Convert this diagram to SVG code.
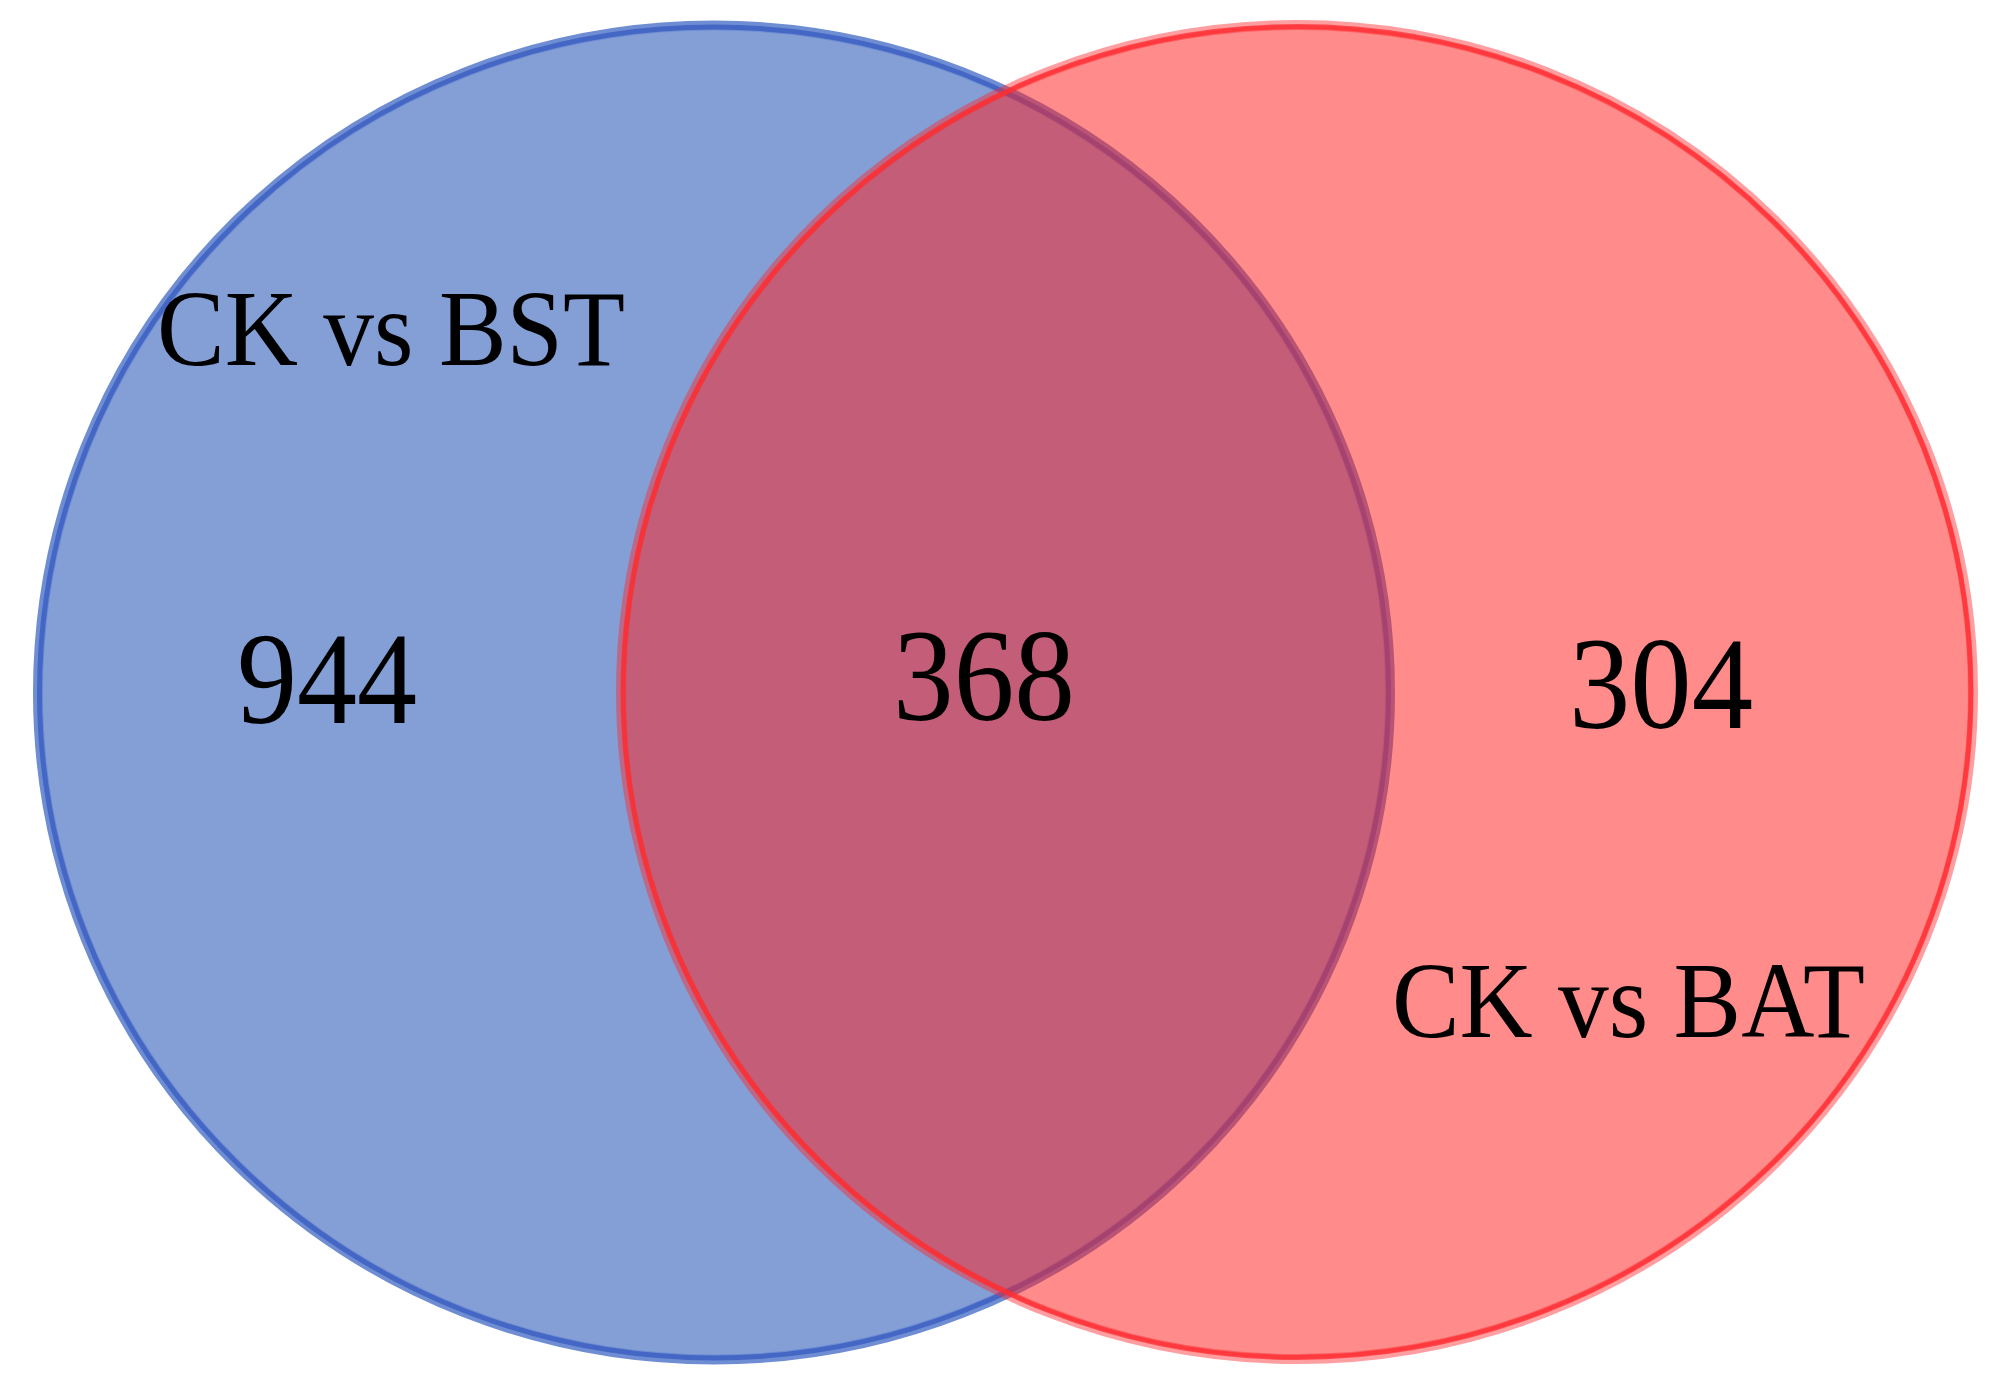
<svg xmlns="http://www.w3.org/2000/svg" width="2007" height="1391" viewBox="0 0 2007 1391">
<style>
.lbl{font-family:"Liberation Serif","Times New Roman",serif;font-size:109px;fill:#000}
.num{font-family:"Liberation Serif","Times New Roman",serif;font-size:132px;fill:#000}
</style>
<rect width="2007" height="1391" fill="#fff"/>
<g id="set-bst">
<ellipse cx="714" cy="692.5" rx="676" ry="667" fill="#849fd6" stroke="#6f8dd2" stroke-width="10"/>
<ellipse cx="714" cy="692.5" rx="674.5" ry="665.5" fill="none" stroke="#4467c6" stroke-width="5"/>
</g>
<g id="set-bat">
<ellipse cx="1297" cy="692" rx="676" ry="667" fill="rgb(255,33,33)" fill-opacity="0.52" stroke="rgb(255,40,45)" stroke-opacity="0.45" stroke-width="10"/>
<ellipse cx="1297" cy="692" rx="674" ry="665.5" fill="none" stroke="rgb(255,45,50)" stroke-opacity="0.75" stroke-width="5"/>
</g>
<g id="labels">
<text class="lbl" x="157" y="365" textLength="468" lengthAdjust="spacingAndGlyphs">CK vs BST</text>
<text class="lbl" x="1392" y="1037" textLength="473" lengthAdjust="spacingAndGlyphs">CK vs BAT</text>
<text class="num" x="237" y="723" textLength="180" lengthAdjust="spacingAndGlyphs">944</text>
<text class="num" x="893" y="720" textLength="182" lengthAdjust="spacingAndGlyphs">368</text>
<text class="num" x="1569" y="728" textLength="184" lengthAdjust="spacingAndGlyphs">304</text>
</g>
</svg>
